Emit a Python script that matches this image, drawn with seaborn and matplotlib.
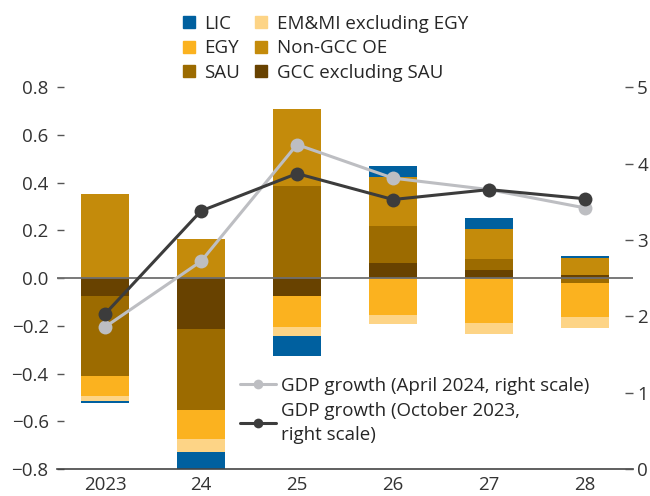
import numpy as np
import matplotlib
matplotlib.use("Agg")
import matplotlib.pyplot as plt
from matplotlib.lines import Line2D
import seaborn as sns

# data
years = ["2023", "24", "25", "26", "27", "28"]
lic = [-0.008, -0.08, -0.083, 0.046, 0.047, 0.007]
egy = [-0.084, -0.121, -0.13, -0.154, -0.187, -0.142]
sau = [-0.339, -0.34, 0.387, 0.155, 0.046, -0.02]
emmi = [-0.021, -0.057, -0.038, -0.04, -0.049, -0.049]
non_gcc = [0.353, 0.165, 0.322, 0.205, 0.125, 0.072]
gcc = [-0.073, -0.212, -0.074, 0.064, 0.035, 0.014]
gdp_apr = [1.86, 2.72, 4.25, 3.81, 3.66, 3.42]
gdp_oct = [2.03, 3.38, 3.87, 3.53, 3.66, 3.54]
left_ticks = [-0.8, -0.6, -0.4, -0.2, 0.0, 0.2, 0.4, 0.6, 0.8]

sns.set_style("white")
plt.rcParams["font.family"] = ["Open Sans", "DejaVu Sans"]
fs = 13.5

colors = {
    "LIC": "#00609f",
    "EGY": "#fbb21f",
    "SAU": "#9c6b00",
    "EM&MI excluding EGY": "#fdd486",
    "Non-GCC OE": "#c48b0b",
    "GCC excluding SAU": "#684200",
}
# stacking order going out from zero
stack = [("GCC excluding SAU", gcc), ("SAU", sau), ("Non-GCC OE", non_gcc),
         ("EGY", egy), ("EM&MI excluding EGY", emmi), ("LIC", lic)]

fig = plt.figure(figsize=(6.5, 4.96), dpi=100)
ax = fig.add_axes([57 / 650, 27 / 496, 576 / 650, 381.7 / 496])

x = np.arange(len(years))
pos_base = np.zeros(len(years))
neg_base = np.zeros(len(years))
for name, vals in stack:
    vals = np.array(vals)
    base = np.where(vals >= 0, pos_base, neg_base)
    ax.bar(x, vals, bottom=base, width=0.5, color=colors[name], linewidth=0, zorder=2)
    pos_base += np.where(vals >= 0, vals, 0)
    neg_base += np.where(vals < 0, vals, 0)

ax.axhline(0, color="#6e6e6e", lw=1.3, zorder=3)
ax.set_xlim(-0.5, len(years) - 0.5)
ax.set_ylim(-0.8, 0.8)
ax.set_yticks(left_ticks)
ax.set_yticklabels([f"{v:.1f}".replace("-", "\u2212") for v in left_ticks])
ax.set_xticks(x)
ax.set_xticklabels(years)
ax.set_xticks(np.arange(-0.5, len(years), 1), minor=True)
ax.tick_params(axis="x", which="major", length=0, pad=5, labelsize=fs, colors="#333333")
ax.tick_params(axis="x", which="minor", direction="in", length=5, width=1, color="#444444")
ax.tick_params(axis="y", direction="in", length=5, width=1, color="#555555", pad=6,
               labelsize=fs, labelcolor="#333333")
for s in ["top", "left", "right"]:
    ax.spines[s].set_visible(False)
ax.spines["bottom"].set_color("#444444")
ax.spines["bottom"].set_linewidth(1.2)

ax2 = ax.twinx()
sns.lineplot(x=x, y=gdp_apr, ax=ax2, color="#bdbec2", lw=2.2, marker="o",
             markersize=10, markeredgewidth=0, zorder=4)
sns.lineplot(x=x, y=gdp_oct, ax=ax2, color="#3c3c3c", lw=2.2, marker="o",
             markersize=10, markeredgewidth=0, zorder=5)
ax2.set_ylim(0, 5)
ax2.set_yticks(range(6))
ax2.tick_params(axis="y", direction="in", length=6, width=1, color="#555555", pad=3,
                labelsize=fs, labelcolor="#333333")
for s in ax2.spines.values():
    s.set_visible(False)

line_handles = [
    Line2D([], [], color="#bdbec2", lw=2.2, marker="o", markersize=7, markeredgewidth=0),
    Line2D([], [], color="#3c3c3c", lw=2.2, marker="o", markersize=7, markeredgewidth=0),
]
leg2 = ax2.legend(line_handles, ["GDP growth (April 2024, right scale)",
                                 "GDP growth (October 2023,\nright scale)"],
                  loc="upper left", bbox_to_anchor=(240 / 650, 1 - 377 / 496),
                  bbox_transform=fig.transFigure, frameon=False, fontsize=fs,
                  handlelength=1.9, handletextpad=0.3, labelspacing=0.36,
                  borderaxespad=0, borderpad=0)
for t in leg2.get_texts():
    t.set_linespacing(1.42)

order = ["LIC", "EGY", "SAU", "EM&MI excluding EGY", "Non-GCC OE", "GCC excluding SAU"]
bar_handles = [Line2D([], [], ls="", marker="s", markersize=9, color=colors[n]) for n in order]
fig.legend(bar_handles, order, ncol=2, loc="upper left",
           bbox_to_anchor=(181 / 650, 1 - 15 / 496), frameon=False, fontsize=fs,
           handlelength=0.8, handletextpad=0.45, labelspacing=0.34,
           columnspacing=0.7, borderaxespad=0, borderpad=0)

fig.savefig("out.png", dpi=100)
